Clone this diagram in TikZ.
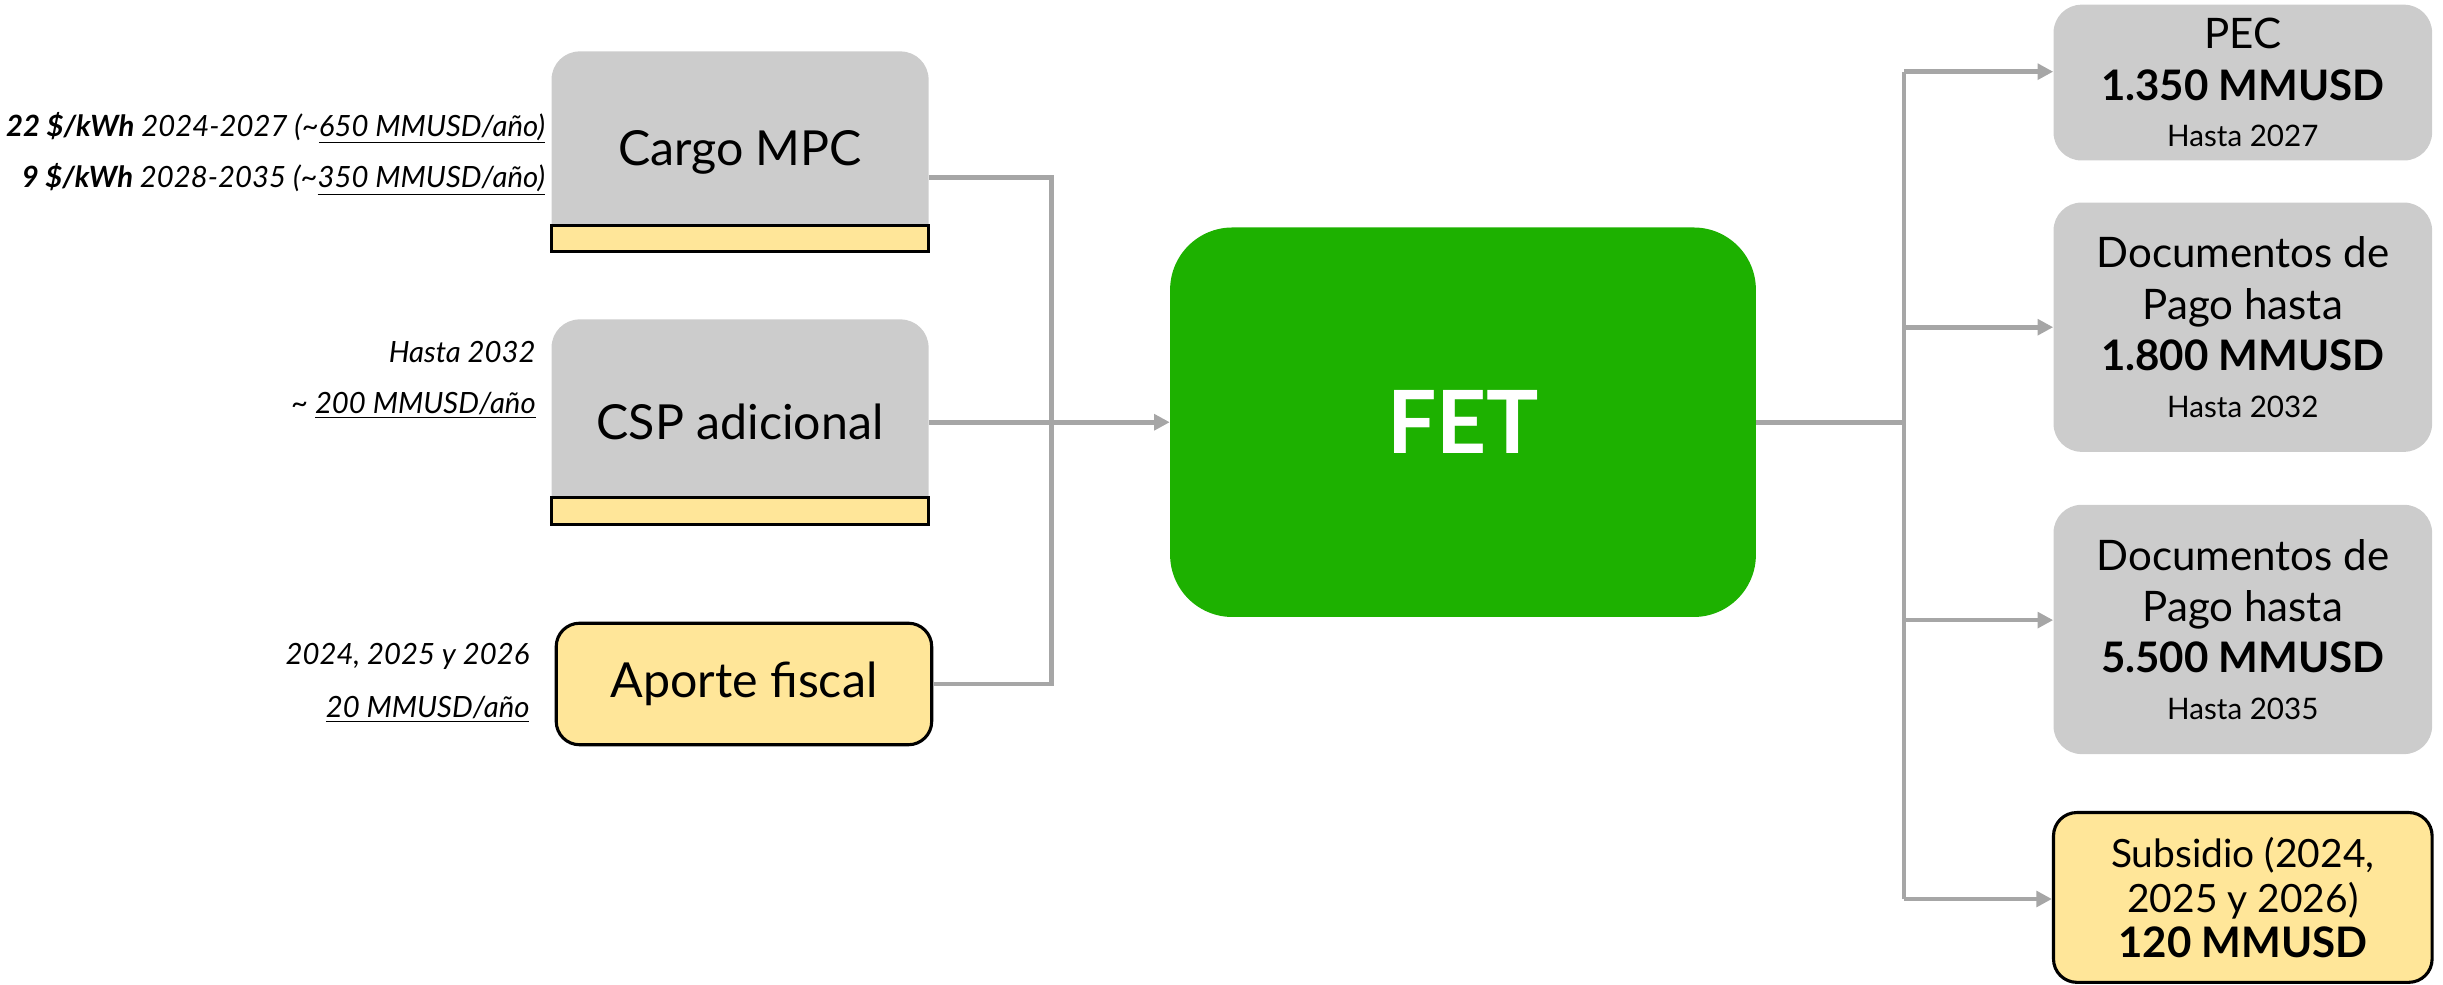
\documentclass[tikz,border=0pt]{standalone}
\usepackage{fontspec}
\setmainfont{Lato}
\usetikzlibrary{arrows.meta}
\definecolor{boxgray}{HTML}{CCCCCC}
\definecolor{boxyellow}{HTML}{FFE699}
\definecolor{fetgreen}{HTML}{1DB100}
\definecolor{linegray}{HTML}{A6A6A6}
\begin{document}
\begin{tikzpicture}[x=1pt,y=-1pt,
  graybox/.style={fill=boxgray, rounded corners=18pt, minimum width=242pt, inner sep=0pt, align=center},
  stripbox/.style={fill=boxyellow, draw=black, line width=2pt, minimum width=242pt, minimum height=17pt, inner sep=0pt},
  yellowbox/.style={fill=boxyellow, draw=black, line width=2pt, rounded corners=15pt, minimum width=241pt, inner sep=0pt, align=center},
  leftfont/.style={font=\fontsize{31}{36}\selectfont},
  rightfont/.style={font=\fontsize{27}{33}\selectfont},
  anno/.style={font=\fontsize{18.8}{22}\selectfont\itshape, inner sep=0pt, anchor=east},
  conn/.style={draw=linegray, line width=3pt},
  arrowconn/.style={conn, -{Triangle[length=10pt,width=10pt]}}
]
\useasboundingbox (0,0) rectangle (1568,632);

% left sources
\node[graybox, leftfont, minimum height=129pt] (cargo) at (475,97.5) {Cargo MPC};
\node[stripbox] (cargostrip) at (475,153) {};
\node[graybox, leftfont, minimum height=132pt] (csp) at (475,271) {CSP adicional};
\node[stripbox] (cspstrip) at (475,328) {};
\node[yellowbox, leftfont, minimum height=78pt] (aporte) at (477.5,439) {Aporte fiscal};

% annotations
\node[anno] (a1) at (350,82) {\textbf{22 \$/kWh} 2024-2027 (\textasciitilde\underline{650 MMUSD/año)}};
\node[anno] (a2) at (350,115) {\textbf{9 \$/kWh} 2028-2035 (\textasciitilde\underline{350 MMUSD/año)}};
\node[anno] (a3) at (344,226) {Hasta 2032};
\node[anno] (a4) at (344,260) {\textasciitilde{} \underline{200 MMUSD/año}};
\node[anno] (a5) at (340,421) {2024, 2025 y 2026};
\node[anno] (a6) at (340,455) {\underline{20 MMUSD/año}};

% FET
\node[fill=fetgreen, rounded corners=40pt, minimum width=376pt, minimum height=250pt, inner sep=0pt,
      text=white, font=\fontsize{56}{60}\selectfont\bfseries] (fet) at (939,271) {FET};

% right outputs
\node[graybox, rightfont, minimum width=243pt, minimum height=100pt] (pec) at (1439.5,53)
  {PEC\\\textbf{1.350 MMUSD}\\[-3pt]{\fontsize{19}{23}\selectfont Hasta 2027}};
\node[graybox, rightfont, minimum width=243pt, minimum height=160pt] (doc1) at (1439.5,210)
  {Documentos de\\Pago hasta\\\textbf{1.800 MMUSD}\\[-3pt]{\fontsize{19}{23}\selectfont Hasta 2032}};
\node[graybox, rightfont, minimum width=243pt, minimum height=160pt] (doc2) at (1439.5,404)
  {Documentos de\\Pago hasta\\\textbf{5.500 MMUSD}\\[-3pt]{\fontsize{19}{23}\selectfont Hasta 2035}};
\node[yellowbox, font=\fontsize{25}{29}\selectfont, minimum width=243pt, minimum height=109pt] (sub) at (1439.5,576)
  {Subsidio (2024,\\2025 y 2026)\\{\fontsize{27}{31}\selectfont\bfseries 120 MMUSD}};

% left connectors
\coordinate (jl1) at (675,114);
\coordinate (jl3) at (675,439);
\draw[conn] (cargo.east |- jl1) -- (jl1) -- (jl3) -- (aporte.east |- jl3);
\draw[arrowconn] (csp.east) -- (fet.west);

% right connectors
\coordinate (jr) at (1222,271);
\coordinate (b1) at (1222,46);
\coordinate (b2) at (1222,210);
\coordinate (b3) at (1222,398);
\coordinate (b4) at (1222,577);
\draw[conn] (fet.east) -- (jr);
\draw[conn] (b1) -- (b4);
\draw[arrowconn] (b1) -- (b1 -| pec.west);
\draw[arrowconn] (b2) -- (b2 -| doc1.west);
\draw[arrowconn] (b3) -- (b3 -| doc2.west);
\draw[arrowconn] (b4) -- (b4 -| sub.west);
\end{tikzpicture}
\end{document}
